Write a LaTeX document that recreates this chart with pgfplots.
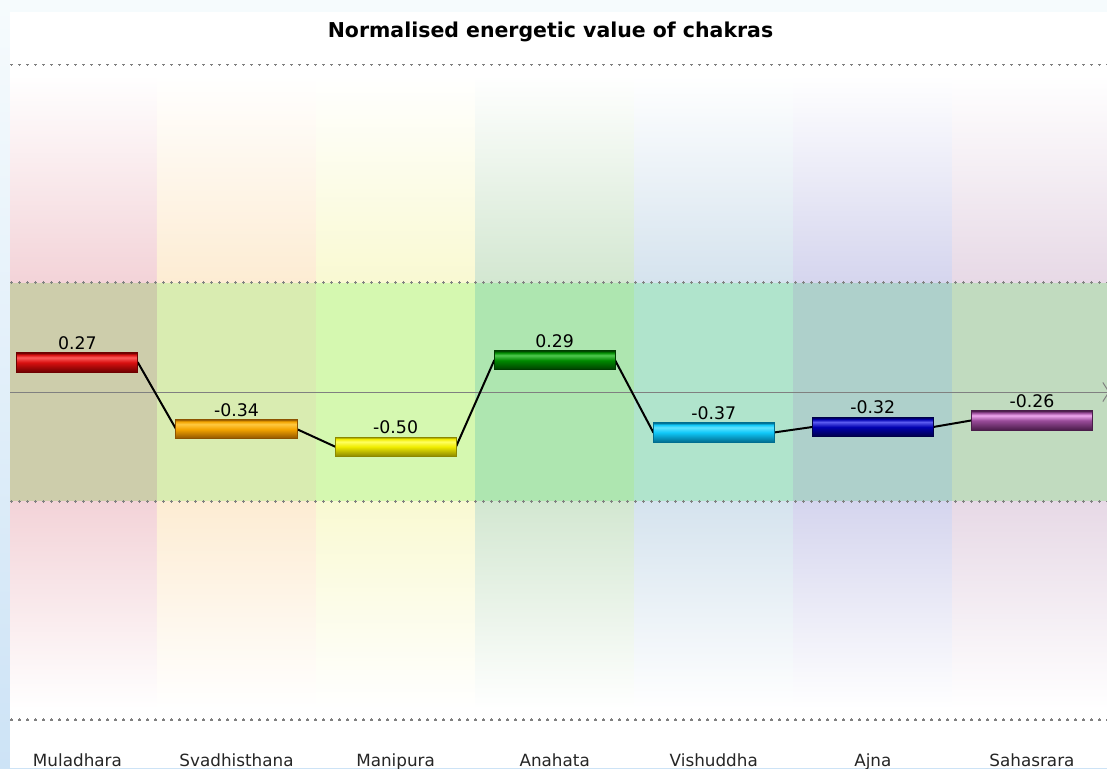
\documentclass[border=0pt]{standalone}
\usepackage{pgfplots}
\pgfplotsset{compat=1.18}
\usepackage{pgfplotstable}
\usepackage{fontspec}
\setmainfont{DejaVu Sans}

% column background colours (outer, band)
\definecolor{cA}{HTML}{F3D3D8}\definecolor{bA}{HTML}{CDCDAB}
\definecolor{cB}{HTML}{FDECD3}\definecolor{bB}{HTML}{D9ECB1}
\definecolor{cC}{HTML}{F9F9D2}\definecolor{bC}{HTML}{D5F8B0}
\definecolor{cD}{HTML}{D3E7D1}\definecolor{bD}{HTML}{AEE6B0}
\definecolor{cE}{HTML}{D5E3EE}\definecolor{bE}{HTML}{B0E4CC}
\definecolor{cF}{HTML}{D5D5EE}\definecolor{bF}{HTML}{AED0CB}
\definecolor{cG}{HTML}{E7D9E6}\definecolor{bG}{HTML}{C1DBBF}
\definecolor{gridgray}{HTML}{808080}

% bar colours: dark, base, light
\definecolor{dA}{HTML}{6E0000}\definecolor{mA}{HTML}{D81010}\definecolor{lA}{HTML}{FF5A5A}
\definecolor{dB}{HTML}{8C5200}\definecolor{mB}{HTML}{F4A400}\definecolor{lB}{HTML}{FFC840}
\definecolor{dC}{HTML}{8C8800}\definecolor{mC}{HTML}{F0EC00}\definecolor{lC}{HTML}{FFFF60}
\definecolor{dD}{HTML}{003C00}\definecolor{mD}{HTML}{008A00}\definecolor{lD}{HTML}{50C850}
\definecolor{dE}{HTML}{006E90}\definecolor{mE}{HTML}{10C8F8}\definecolor{lE}{HTML}{60E4FF}
\definecolor{dF}{HTML}{000048}\definecolor{mF}{HTML}{0000B0}\definecolor{lF}{HTML}{5A5AF0}
\definecolor{dG}{HTML}{4A1C4A}\definecolor{mG}{HTML}{9A4C9A}\definecolor{lG}{HTML}{F0A8F0}

\newcommand\defchak[1]{%
  \pgfdeclareverticalshading{sh#1}{100bp}{color(0bp)=(d#1); color(25bp)=(d#1);
    color(50bp)=(m#1); color(63bp)=(l#1); color(70bp)=(m#1); color(75bp)=(d#1); color(100bp)=(d#1)}%
  \pgfdeclareplotmark{ch#1}{\shade[shading=sh#1, draw=d#1, line width=0.75pt]
    (-45.4pt,-7.2pt) rectangle (45.4pt,7.2pt);}}
\defchak{A}\defchak{B}\defchak{C}\defchak{D}\defchak{E}\defchak{F}\defchak{G}

\newcommand\colbg[4]{%
  \shade[top color=white, bottom color=#3] (axis cs:#1,1) rectangle (axis cs:#2,2.9);
  \fill[#4] (axis cs:#1,-1) rectangle (axis cs:#2,1);
  \shade[top color=#3, bottom color=white] (axis cs:#1,-2.9) rectangle (axis cs:#2,-1);}

\newcommand\dotline[1]{%
  \draw[gridgray, line width=0.9pt, dash pattern=on 2.4pt off 3.6pt]
    (axis cs:-0.424,#1) -- (axis cs:6.472,#1);
  \draw[gridgray, line width=2.4pt, dash pattern=on 0.9pt off 5.1pt, dash phase=-0.75pt]
    (axis cs:-0.424,#1) -- (axis cs:6.472,#1);}

\pgfplotstableread{
x y lab
0 0.27 0.27
1 -0.34 -0.34
2 -0.50 -0.50
3 0.29 0.29
4 -0.37 -0.37
5 -0.32 -0.32
6 -0.26 -0.26
}\chak

\begin{document}
\begin{tikzpicture}
\useasboundingbox (0,0) rectangle (830.25pt,576pt);
\clip (0,0) rectangle (830.25pt,576pt);
\shade[top color={rgb,255:red,246;green,251;blue,253}, bottom color={rgb,255:red,205;green,227;blue,246}]
  (0,0) rectangle (830.25pt,576pt);
\fill[white] (7.5pt,0) rectangle (830.25pt,567pt);
\node[anchor=base, inner sep=0pt, font=\bfseries\fontsize{15.35}{18}\selectfont] at (412.9pt,547.5pt)
  {Normalised energetic value of chakras};
\begin{axis}[
  at={(7.5pt,36pt)}, anchor=south west,
  scale only axis, width=822.75pt, height=492pt,
  xmin=-0.424, xmax=6.472, ymin=-3, ymax=3,
  axis line style={draw=none}, tick style={draw=none}, major tick length=0pt,
  ytick=\empty, xtick={0,...,6},
  xticklabels={Muladhara,Svadhisthana,Manipura,Anahata,Vishuddha,Ajna,Sahasrara},
  xticklabel style={anchor=base, yshift=-34.5pt, inner sep=0pt,
    font=\fontsize{12.6}{15}\selectfont, text=black!85},
  clip=true,
]
\colbg{-0.424}{0.5}{cA}{bA}
\colbg{0.5}{1.5}{cB}{bB}
\colbg{1.5}{2.5}{cC}{bC}
\colbg{2.5}{3.5}{cD}{bD}
\colbg{3.5}{4.5}{cE}{bE}
\colbg{4.5}{5.5}{cF}{bF}
\colbg{5.5}{6.472}{cG}{bG}
\dotline{3}\dotline{1}\dotline{-1}\dotline{-3}
\draw[gridgray, line width=0.75pt] (axis cs:-0.424,0) -- (axis cs:6.472,0);
\draw[gridgray, line width=0.75pt] (axis cs:6.446,0.087) -- (axis cs:6.484,0) -- (axis cs:6.446,-0.087);

\addplot[black, line width=1.5pt, line join=round, mark=none] coordinates {
  (-0.38,0.27) (0.38,0.27) (0.62,-0.34) (1.38,-0.34) (1.62,-0.50) (2.38,-0.50)
  (2.62,0.29) (3.38,0.29) (3.62,-0.37) (4.38,-0.37) (4.62,-0.32) (5.38,-0.32)
  (5.62,-0.26) (6.38,-0.26)};

\addplot[only marks, mark=chA] coordinates {(0,0.27)};
\addplot[only marks, mark=chB] coordinates {(1,-0.34)};
\addplot[only marks, mark=chC] coordinates {(2,-0.50)};
\addplot[only marks, mark=chD] coordinates {(3,0.29)};
\addplot[only marks, mark=chE] coordinates {(4,-0.37)};
\addplot[only marks, mark=chF] coordinates {(5,-0.32)};
\addplot[only marks, mark=chG] coordinates {(6,-0.26)};

\addplot[draw=none, mark=none, nodes near coords, point meta=explicit symbolic,
  nodes near coords style={anchor=base, yshift=9.75pt, inner sep=0pt,
    font=\fontsize{13}{15}\selectfont, text=black}]
  table[x=x, y=y, meta=lab] {\chak};
\end{axis}
\end{tikzpicture}
\end{document}
